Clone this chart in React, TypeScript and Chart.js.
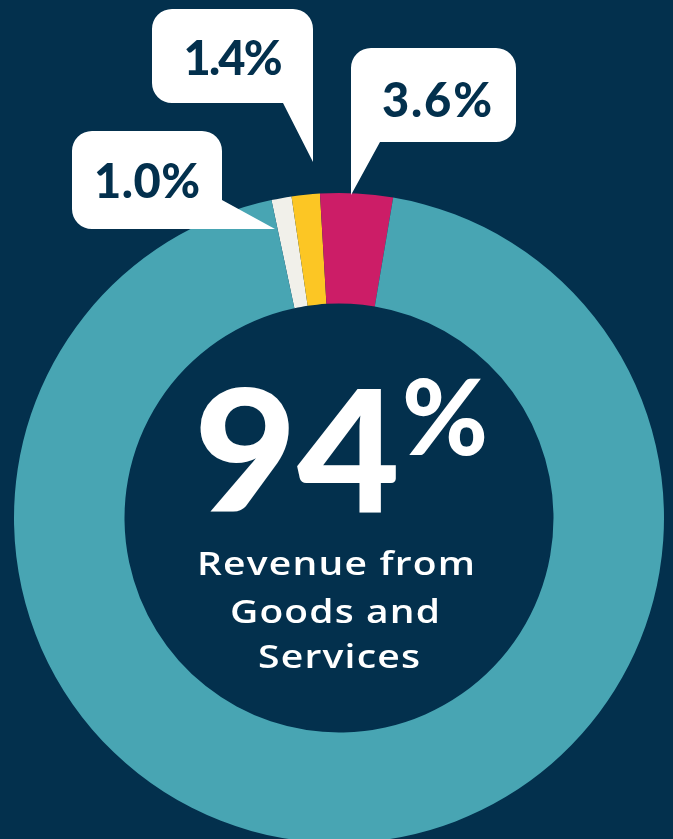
import React, { useEffect, useRef } from "react";
import { Chart, registerables } from "chart.js";
Chart.register(...registerables);

const categories = ["Other 1", "Other 2", "Other 3", "Goods and Services"];
const values = [1.0, 1.4, 3.6, 94];
const calloutLabels = ["1.0%", "1.4%", "3.6%"];
const colors = ["#f1f0ea", "#fcc624", "#cc1d67", "#48a5b3"];
const centerValue = "94";
const centerLines = ["Revenue from", "Goods and", "Services"];

const BG = "#03304d";

function spacedText(ctx: CanvasRenderingContext2D, text: string, cx: number, y: number, target: number) {
  (ctx as any).letterSpacing = "0px";
  const w0 = ctx.measureText(text).width;
  const n = Math.max(1, text.length - 1);
  const sp = (target - w0) / n;
  (ctx as any).letterSpacing = `${sp}px`;
  ctx.textAlign = "left";
  ctx.fillText(text, cx - target / 2, y);
  (ctx as any).letterSpacing = "0px";
}

function fitText(ctx: CanvasRenderingContext2D, text: string, cx: number, y: number, target: number, spacing: number) {
  (ctx as any).letterSpacing = "0px";
  const w0 = ctx.measureText(text).width + spacing * (text.length - 1);
  const sx = target / w0;
  (ctx as any).letterSpacing = `${spacing}px`;
  ctx.save();
  ctx.translate(cx - target / 2, y);
  ctx.scale(sx, 1);
  ctx.textAlign = "left";
  ctx.fillText(text, 0, 0);
  ctx.restore();
  (ctx as any).letterSpacing = "0px";
}

const overlay = {
  id: "overlay",
  afterDraw(chart: any) {
    const ctx: CanvasRenderingContext2D = chart.ctx;
    const arc = chart.getDatasetMeta(0).data[0];
    if (!arc) return;
    const cx = arc.x;
    const cy = arc.y;
    const R = arc.outerRadius;
    const s = R / 325;
    const P = (dx: number, dy: number): [number, number] => [cx + dx * s, cy + dy * s];
    const r = 20 * s;
    ctx.save();
    ctx.fillStyle = "#ffffff";

    // bubble 1: 1.0%
    {
      const [x0, y0] = P(-267, -387);
      const [x1, y1] = P(-117, -289);
      const [tx, ty] = P(-64, -289);
      const [, ry] = P(0, -318);
      ctx.beginPath();
      ctx.moveTo(x0 + r, y0);
      ctx.lineTo(x1 - r, y0);
      ctx.arcTo(x1, y0, x1, y0 + r, r);
      ctx.lineTo(x1, ry);
      ctx.lineTo(tx, ty);
      ctx.lineTo(x0 + r, y1);
      ctx.arcTo(x0, y1, x0, y1 - r, r);
      ctx.lineTo(x0, y0 + r);
      ctx.arcTo(x0, y0, x0 + r, y0, r);
      ctx.closePath();
      ctx.fill();
    }
    // bubble 2: 1.4%
    {
      const [x0, y0] = P(-187, -509);
      const [x1, y1] = P(-26, -415);
      const [tx, ty] = P(-26, -356);
      const [bx] = P(-56, 0);
      ctx.beginPath();
      ctx.moveTo(x0 + r, y0);
      ctx.lineTo(x1 - r, y0);
      ctx.arcTo(x1, y0, x1, y0 + r, r);
      ctx.lineTo(tx, ty);
      ctx.lineTo(bx, y1);
      ctx.lineTo(x0 + r, y1);
      ctx.arcTo(x0, y1, x0, y1 - r, r);
      ctx.lineTo(x0, y0 + r);
      ctx.arcTo(x0, y0, x0 + r, y0, r);
      ctx.closePath();
      ctx.fill();
    }
    // bubble 3: 3.6%
    {
      const [x0, y0] = P(12, -470);
      const [x1, y1] = P(177, -376);
      const [tx, ty] = P(12, -323);
      const [bx] = P(41, 0);
      ctx.beginPath();
      ctx.moveTo(x0 + r, y0);
      ctx.lineTo(x1 - r, y0);
      ctx.arcTo(x1, y0, x1, y0 + r, r);
      ctx.lineTo(x1, y1 - r);
      ctx.arcTo(x1, y1, x1 - r, y1, r);
      ctx.lineTo(bx, y1);
      ctx.lineTo(tx, ty);
      ctx.lineTo(x0, y0 + r);
      ctx.arcTo(x0, y0, x0 + r, y0, r);
      ctx.closePath();
      ctx.fill();
    }

    // callout texts
    ctx.fillStyle = BG;
    ctx.textBaseline = "alphabetic";
    ctx.font = `900 ${Math.round(47 * s)}px Lato, "Open Sans", sans-serif`;
    const textPos: [number, number][] = [[-192, -320], [-106, -443], [98, -401]];
    const textW = [106, 99, 110];
    calloutLabels.forEach((t, i) => {
      const [x, y] = P(textPos[i][0], textPos[i][1]);
      spacedText(ctx, t, x, y, textW[i] * s);
    });

    // center big number
    ctx.fillStyle = "#ffffff";
    ctx.textAlign = "left";
    const bigFont = `900 ${Math.round(170 * s)}px Lato, "Open Sans", sans-serif`;
    const pctFont = `900 ${Math.round(104 * s)}px Lato, "Open Sans", sans-serif`;
    ctx.font = bigFont;
    const w1raw = ctx.measureText(centerValue).width;
    const targetW1 = 206 * s;
    const sx = targetW1 / w1raw;
    ctx.font = pctFont;
    const w2 = ctx.measureText("%").width;
    const gap = 2 * s;
    const total = targetW1 + gap + w2;
    const startX = cx + 2 * s - total / 2;
    const [, by] = P(0, -6);
    ctx.save();
    ctx.translate(startX, by);
    ctx.scale(sx, 1);
    ctx.font = bigFont;
    ctx.fillText(centerValue, 0, 0);
    ctx.restore();
    ctx.font = pctFont;
    const [, py] = P(0, -63);
    ctx.fillText("%", startX + targetW1 + gap, py);

    // subtitle lines
    ctx.font = `600 ${Math.round(33 * s)}px "Open Sans", Lato, sans-serif`;
    const baseYs = [57, 105, 150];
    const lineW = [278, 210, 162];
    const lineX = [-3, -4, 0];
    centerLines.forEach((t, i) => {
      const [x, y] = P(lineX[i], baseYs[i]);
      fitText(ctx, t, x, y, lineW[i] * s, 1 * s);
    });
    ctx.restore();
  },
};

export default function App() {
  const ref = useRef<HTMLCanvasElement | null>(null);
  useEffect(() => {
    if (!ref.current) return;
    const chart = new Chart(ref.current, {
      type: "doughnut",
      data: {
        labels: categories,
        datasets: [
          {
            data: values,
            backgroundColor: colors,
            borderWidth: 0,
          },
        ],
      },
      options: {
        animation: false,
        responsive: true,
        maintainAspectRatio: false,
        rotation: -12,
        cutout: "66%",
        layout: { padding: { left: 14, right: 9, top: 193, bottom: 17 } },
        plugins: {
          legend: { display: false },
          tooltip: { enabled: false },
          title: { display: false },
        },
      },
      plugins: [overlay],
    });
    return () => chart.destroy();
  }, []);
  return (
    <div
      style={{
        position: "fixed",
        left: 0,
        top: 0,
        width: 673,
        height: 839,
        overflow: "hidden",
        background: BG,
      }}
    >
      <div style={{ position: "absolute", left: 0, top: 0, width: 673, height: 860 }}>
        <canvas ref={ref} />
      </div>
    </div>
  );
}
